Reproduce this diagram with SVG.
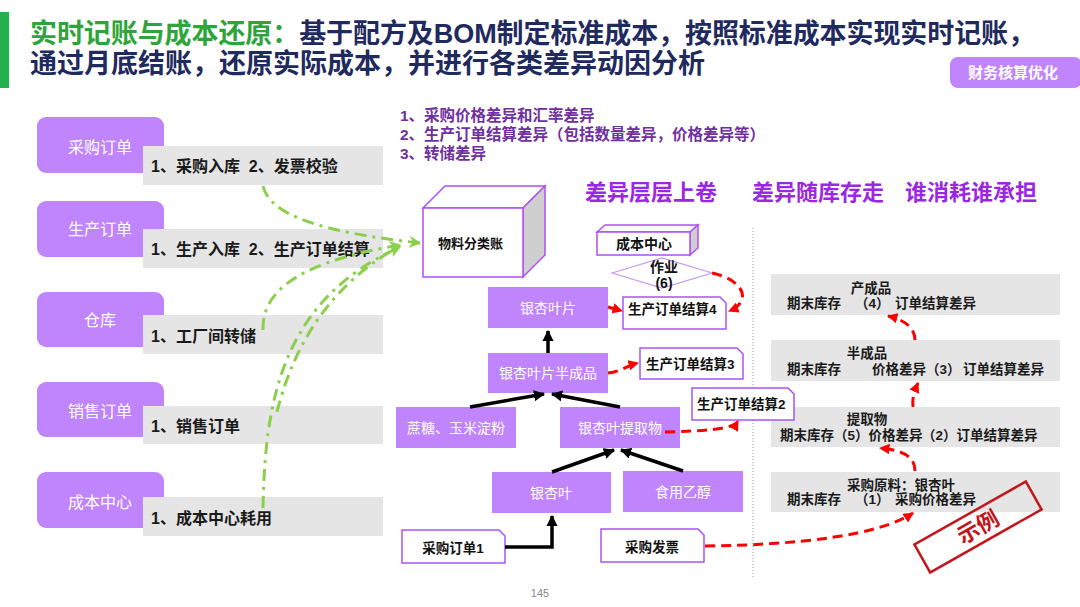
<svg xmlns="http://www.w3.org/2000/svg" width="1080" height="607" viewBox="0 0 1080 607">
<style>
text{font-family:"Liberation Sans","Noto Sans CJK SC",sans-serif}
.t1{font-size:27px;font-weight:bold}
.lbl{font-size:16px;fill:#fff}
.bar{font-size:16px;font-weight:bold;fill:#1a1a1a}
.pnode{fill:#c084fc}
.ptxt{font-size:14px;fill:#fff;text-anchor:middle}
.grey{fill:#e5e5e5}
.var{font-size:15.5px;font-weight:bold;fill:#7030a0}
.head{font-size:22px;font-weight:bold;fill:#9b27e3}
.tag{fill:#fff;stroke:#a855f7;stroke-width:1.5}
.tagt{font-size:13.5px;font-weight:bold;fill:#111}
.rp{font-size:13.5px;font-weight:bold;fill:#1a1a1a}
.green{fill:none;stroke:#8ccf4d;stroke-width:3;stroke-dasharray:12 6 3 6}
.red{fill:none;stroke:#ff0000;stroke-width:3;stroke-dasharray:10 6}
.blk{fill:none;stroke:#000;stroke-width:3.5}
.cube{stroke:#b24ef5;stroke-width:1.5}
</style>
<defs>
<marker id="ag" viewBox="0 0 10 10" refX="9" refY="5" markerWidth="4" markerHeight="4" orient="auto" markerUnits="strokeWidth"><path d="M0,0 L10,5 L0,10 L3,5 z" fill="#8ccf4d"/></marker>
<marker id="ar" viewBox="0 0 10 10" refX="9" refY="5" markerWidth="3.5" markerHeight="3.5" orient="auto" markerUnits="strokeWidth"><path d="M0,0 L10,5 L0,10 z" fill="#ff0000"/></marker>
<marker id="ab" viewBox="0 0 10 10" refX="9" refY="5" markerWidth="3.2" markerHeight="3.2" orient="auto" markerUnits="strokeWidth"><path d="M0,0 L10,5 L0,10 z" fill="#000"/></marker>
</defs>

<!-- title -->
<g id="title">
<rect x="0" y="12" width="9" height="76" fill="#22b14c"/>
<text class="t1" x="30" y="43" textLength="1005" lengthAdjust="spacing"><tspan fill="#2ea43a">实时记账与成本还原：</tspan><tspan fill="#1f2a5e">基于配方及BOM制定标准成本，按照标准成本实现实时记账，</tspan></text>
<text class="t1" x="30" y="73" fill="#1f2a5e">通过月底结账，还原实际成本，并进行各类差异动因分析</text>
</g>
<g id="badge">
<rect x="950" y="57" width="132" height="31" rx="8" fill="#c084fc"/>
<text x="1013" y="78" font-size="15" font-weight="bold" fill="#fff" text-anchor="middle">财务核算优化</text>
</g>

<!-- left column -->
<g id="n-purchase">
<rect class="pnode" x="37" y="117" width="127" height="56" rx="9"/>
<text class="lbl" x="100" y="153" text-anchor="middle">采购订单</text>
<rect class="grey" x="143" y="146" width="240" height="39"/>
<text class="bar" x="151" y="172" xml:space="preserve">1、采购入库  2、发票校验</text>
</g>
<g id="n-production">
<rect class="pnode" x="37" y="201" width="127" height="56" rx="9"/>
<text class="lbl" x="100" y="235" text-anchor="middle">生产订单</text>
<rect class="grey" x="143" y="229" width="240" height="39"/>
<text class="bar" x="151" y="255" xml:space="preserve">1、生产入库  2、生产订单结算</text>
</g>
<g id="n-warehouse">
<rect class="pnode" x="37" y="292" width="127" height="55" rx="9"/>
<text class="lbl" x="100" y="326" text-anchor="middle">仓库</text>
<rect class="grey" x="143" y="315" width="240" height="39"/>
<text class="bar" x="151" y="342">1、工厂间转储</text>
</g>
<g id="n-sales">
<rect class="pnode" x="37" y="382" width="127" height="55" rx="9"/>
<text class="lbl" x="100" y="417" text-anchor="middle">销售订单</text>
<rect class="grey" x="143" y="406" width="240" height="38"/>
<text class="bar" x="151" y="432">1、销售订单</text>
</g>
<g id="n-costcenter">
<rect class="pnode" x="37" y="472" width="127" height="56" rx="9"/>
<text class="lbl" x="100" y="508" text-anchor="middle">成本中心</text>
<rect class="grey" x="143" y="497" width="240" height="39"/>
<text class="bar" x="151" y="524">1、成本中心耗用</text>
</g>

<!-- variance list and headings -->
<g id="variance-list">
<text class="var" x="400" y="121">1、采购价格差异和汇率差异</text>
<text class="var" x="400" y="140">2、生产订单结算差异（包括数量差异，价格差异等）</text>
<text class="var" x="400" y="159">3、转储差异</text>
</g>
<g id="headings">
<text class="head" x="585" y="200">差异层层上卷</text>
<text class="head" x="752" y="200">差异随库存走</text>
<text class="head" x="905" y="200">谁消耗谁承担</text>
</g>

<line x1="753" y1="228" x2="753" y2="578" stroke="#9a9a9a" stroke-width="1" stroke-dasharray="1 2"/>

<!-- cube ledger -->
<g id="n-ledger">
<polygon class="cube" points="423,208 445,186 545,186 523,208" fill="#fff"/>
<polygon class="cube" points="523,208 545,186 545,255 523,277" fill="#cfcfcf"/>
<rect class="cube" x="423" y="208" width="100" height="69" fill="#fff"/>
<text x="438" y="248" font-size="13" font-weight="bold" fill="#111">物料分类账</text>
</g>

<!-- cost center cube -->
<g id="n-cc-cube">
<polygon class="cube" points="597,232 605,225 698,225 690,232" fill="#fff"/>
<polygon class="cube" points="690,232 698,225 698,248 690,255" fill="#cfcfcf"/>
<rect class="cube" x="597" y="232" width="93" height="23" fill="#fff"/>
<text x="644" y="249" font-size="14" font-weight="bold" fill="#111" text-anchor="middle">成本中心</text>
</g>
<g id="n-activity">
<polygon points="612,273 662,258 712,273 662,288" fill="#fff" stroke="#c99af2" stroke-width="1.2"/>
<text x="664" y="272" font-size="14" font-weight="bold" fill="#111" text-anchor="middle">作业</text>
<text x="664" y="288" font-size="14" font-weight="bold" fill="#111" text-anchor="middle">(6)</text>
</g>

<!-- middle nodes -->
<g id="n-leaf-tab"><rect class="pnode" x="488" y="287" width="120" height="41"/><text class="ptxt" x="548" y="313">银杏叶片</text></g>
<g id="n-semi"><rect class="pnode" x="488" y="353" width="120" height="40"/><text class="ptxt" x="548" y="378">银杏叶片半成品</text></g>
<g id="n-sugar"><rect class="pnode" x="396" y="407" width="120" height="41"/><text class="ptxt" x="456" y="433">蔗糖、玉米淀粉</text></g>
<g id="n-extract"><rect class="pnode" x="560" y="407" width="120" height="41"/><text class="ptxt" x="620" y="433">银杏叶提取物</text></g>
<g id="n-leaf"><rect class="pnode" x="492" y="472" width="119" height="41"/><text class="ptxt" x="551" y="498">银杏叶</text></g>
<g id="n-ethanol"><rect class="pnode" x="623" y="471" width="120" height="41"/><text class="ptxt" x="683" y="497">食用乙醇</text></g>

<!-- right panel -->
<g id="n-finished">
<rect class="grey" x="771" y="274" width="289" height="41"/>
<text class="rp" x="871" y="293" text-anchor="middle">产成品</text>
<text class="rp" y="308"><tspan x="787">期末库存</tspan><tspan x="855">（4）</tspan><tspan x="895">订单结算差异</tspan></text>
</g>
<g id="n-semifinished">
<rect class="grey" x="771" y="340" width="289" height="41"/>
<text class="rp" x="867" y="358" text-anchor="middle">半成品</text>
<text class="rp" y="374"><tspan x="787">期末库存</tspan><tspan x="872">价格差异（3）</tspan><tspan x="963">订单结算差异</tspan></text>
</g>
<g id="n-extractr">
<rect class="grey" x="771" y="407" width="289" height="40"/>
<text class="rp" x="867" y="424" text-anchor="middle">提取物</text>
<text class="rp" y="440"><tspan x="780">期末库存（5）价格差异</tspan><tspan x="922">（2）订单结算差异</tspan></text>
</g>
<g id="n-raw">
<rect class="grey" x="771" y="472" width="289" height="40"/>
<text class="rp" x="847" y="490">采购原料：银杏叶</text>
<text class="rp" y="504"><tspan x="787">期末库存</tspan><tspan x="855">（1）</tspan><tspan x="895">采购价格差异</tspan></text>
</g>

<!-- tag boxes -->
<g id="n-settle4"><path class="tag" d="M623,297 H720 L726,303 V329 H623 Z"/><text class="tagt" x="628" y="314">生产订单结算4</text></g>
<g id="n-settle3"><path class="tag" d="M640,348 H737 L743,354 V379 H640 Z"/><text class="tagt" x="646" y="369">生产订单结算3</text></g>
<g id="n-settle2"><path class="tag" d="M692,388 H788 L794,394 V420 H692 Z"/><text class="tagt" x="697" y="409">生产订单结算2</text></g>
<g id="n-po1"><path class="tag" d="M402,530 H499 L505,536 V563 H402 Z"/><text class="tagt" x="453" y="553" text-anchor="middle">采购订单1</text></g>
<g id="n-invoice"><path class="tag" d="M601,529 H698 L704,535 V562 H601 Z"/><text class="tagt" x="652" y="552" text-anchor="middle">采购发票</text></g>

<!-- connectors -->
<g id="connectors">
<path class="green" d="M263,186 C270,215 320,232 420,243" marker-end="url(#ag)"/>
<path class="green" d="M263,330 C262,290 300,262 400,245" marker-end="url(#ag)"/>
<path class="green" d="M277,412 C290,360 320,290 400,246" marker-end="url(#ag)"/>
<path class="green" d="M263,508 C265,400 282,300 400,247" marker-end="url(#ag)"/>

<path class="blk" d="M548,353 L548,331" marker-end="url(#ab)"/>
<path class="blk" d="M470,407 L544,394" marker-end="url(#ab)"/>
<path class="blk" d="M620,407 L552,394" marker-end="url(#ab)"/>
<path class="blk" d="M552,472 L614,450" marker-end="url(#ab)"/>
<path class="blk" d="M683,471 L621,450" marker-end="url(#ab)"/>
<path class="blk" d="M505,547 L552,547 L552,516" marker-end="url(#ab)"/>

<path class="red" d="M712,273 C745,280 752,302 729,311" marker-end="url(#ar)"/>
<path class="red" d="M608,307 L622,311" marker-end="url(#ar)"/>
<path class="red" d="M608,373 C620,372 626,366 638,363" marker-end="url(#ar)"/>
<path class="red" d="M665,432 C700,431 733,430 738,421" marker-end="url(#ar)"/>
<path class="red" d="M705,546 C800,545 880,535 913,513" marker-end="url(#ar)"/>
<path class="red" d="M915,471 C915,455 900,450 880,448" marker-end="url(#ar)"/>
<path class="red" d="M913,407 C912,395 915,390 918,383" marker-end="url(#ar)"/>
<path class="red" d="M915,340 C915,328 905,320 888,316" marker-end="url(#ar)"/>
</g>

<!-- stamp -->
<g id="stamp" transform="translate(978,527) rotate(-29.5)">
<rect x="-64" y="-16" width="128" height="32" fill="none" stroke="#c3161c" stroke-width="2.5"/>
<text x="0" y="8" font-size="22" font-weight="bold" fill="#c3161c" text-anchor="middle">示例</text>
</g>

<text x="540" y="597" font-size="11" fill="#888" text-anchor="middle">145</text>
</svg>
